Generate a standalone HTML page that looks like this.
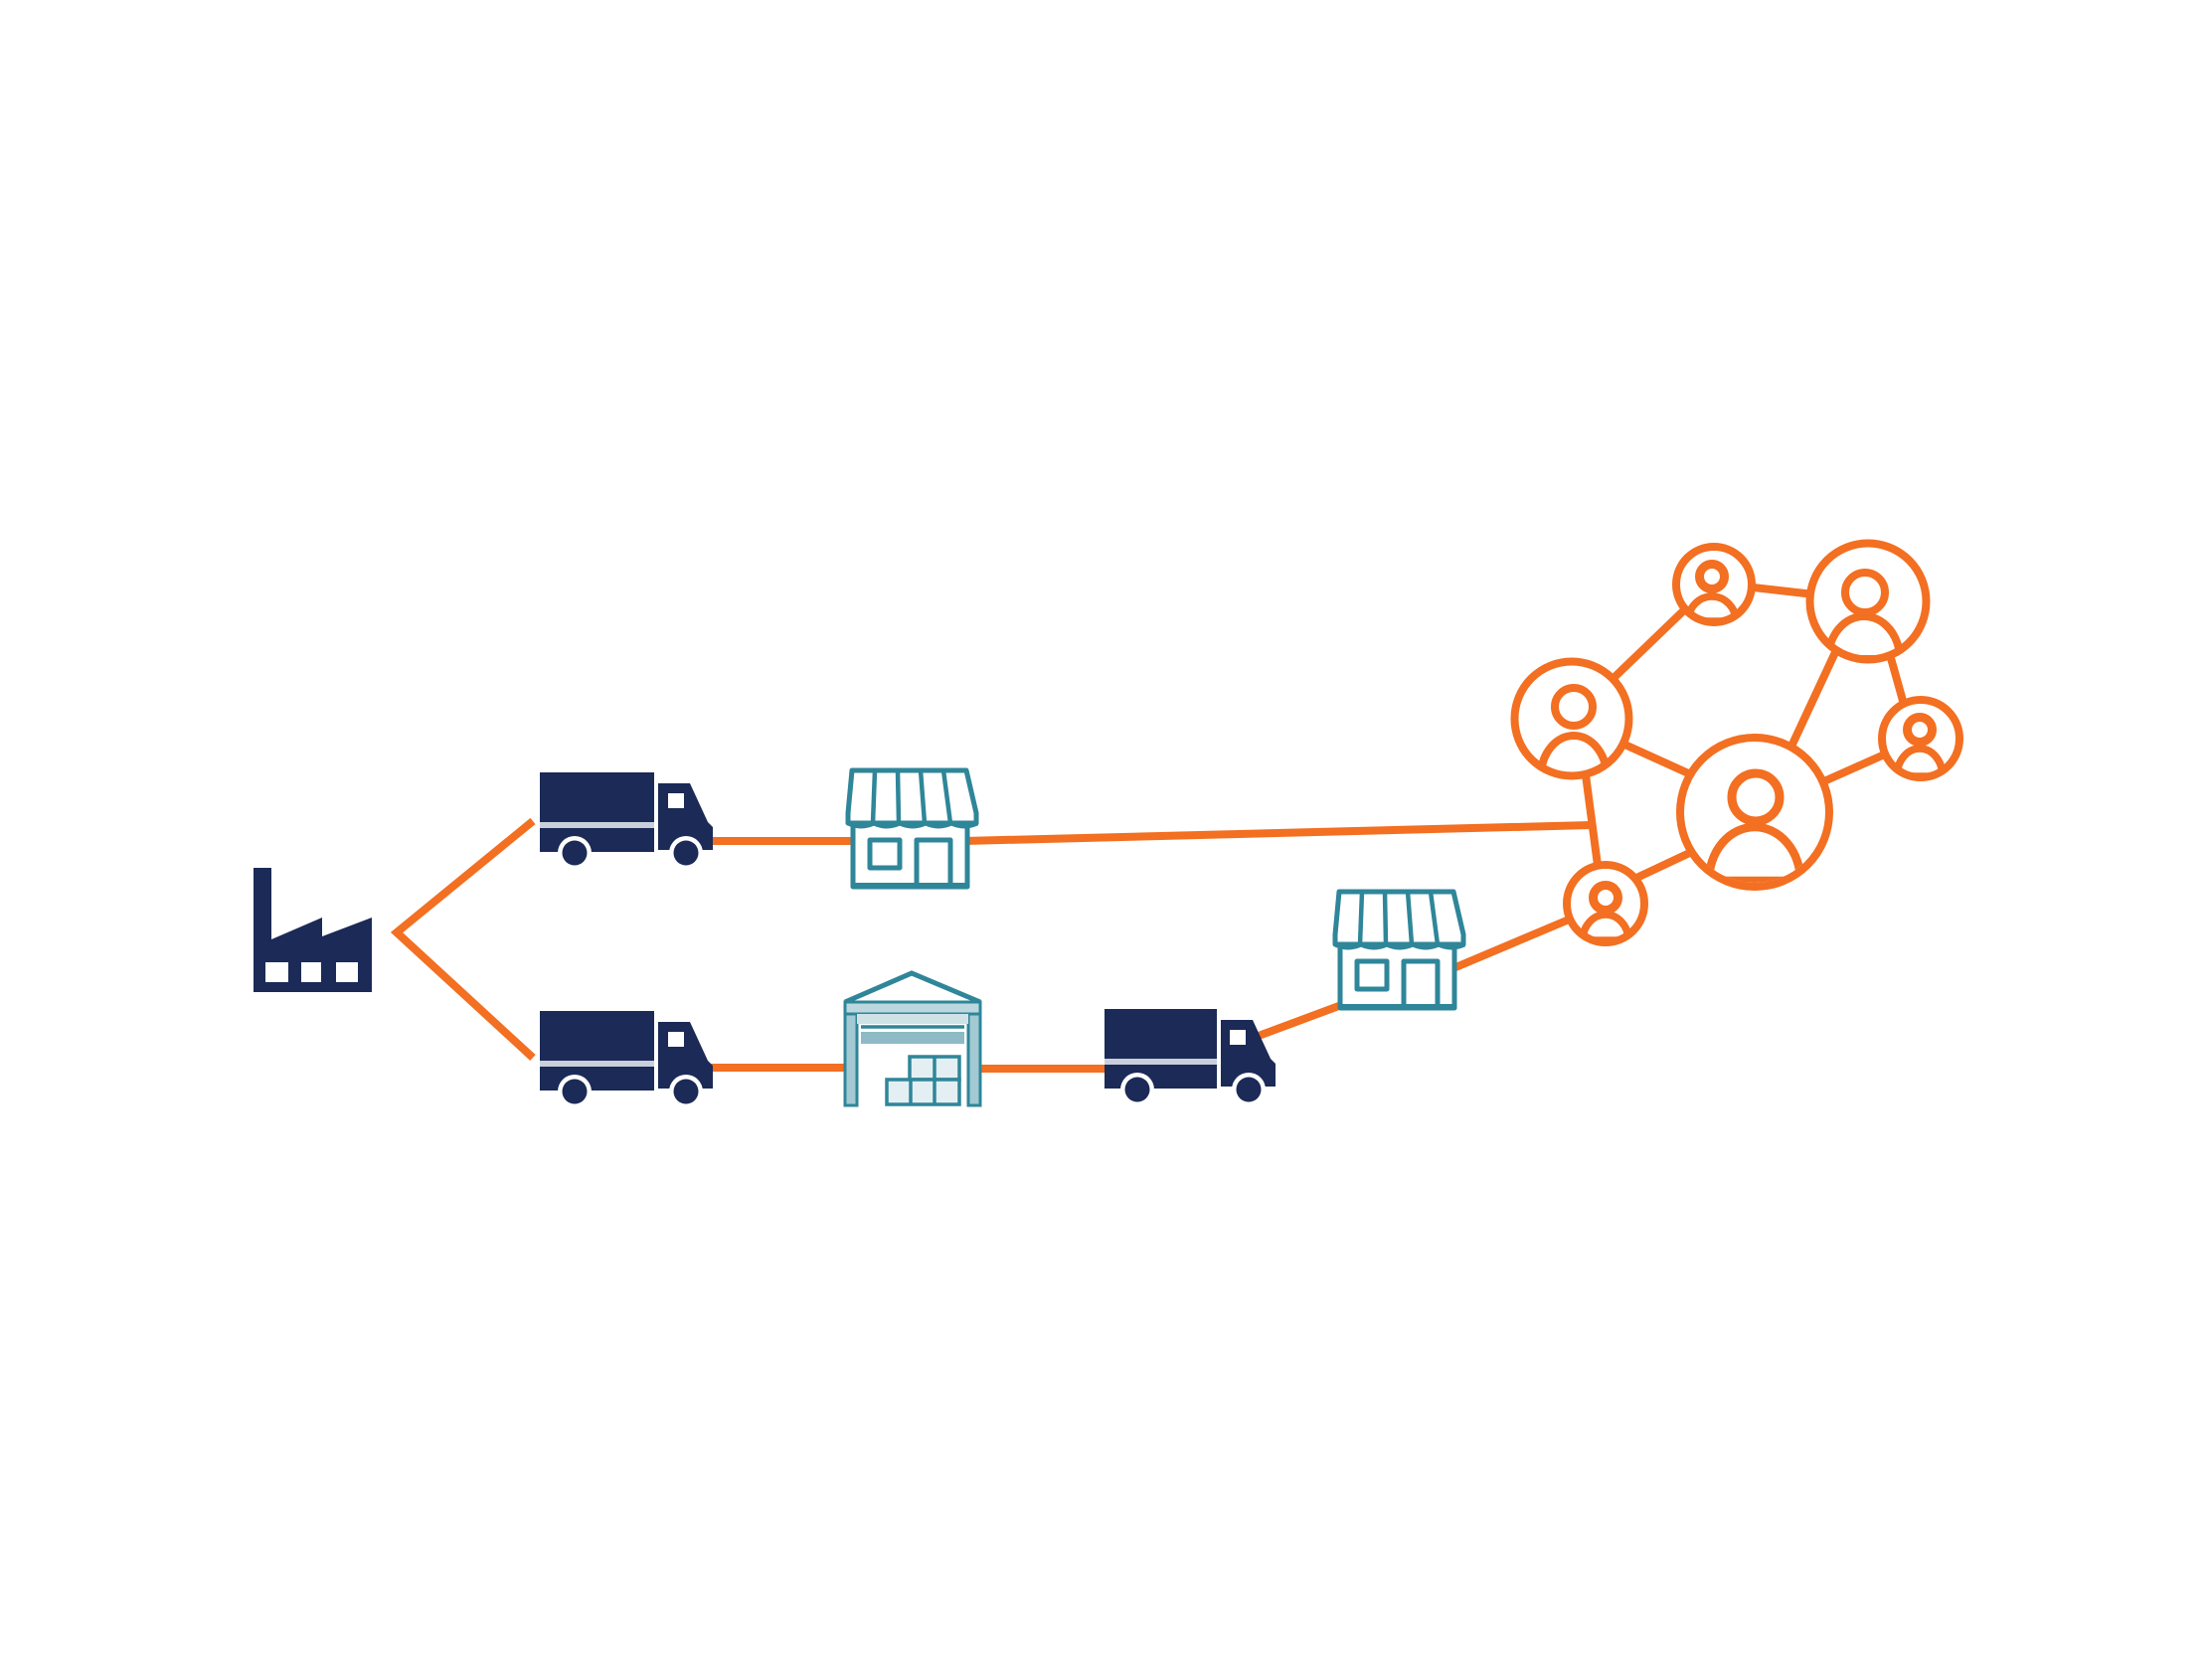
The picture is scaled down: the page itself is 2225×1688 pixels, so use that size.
<!DOCTYPE html>
<html>
<head>
<meta charset="utf-8">
<style>
  html,body{margin:0;padding:0;background:#fff;}
  svg{display:block;}
</style>
</head>
<body>
<svg width="2225" height="1688" viewBox="0 0 2225 1688" xmlns="http://www.w3.org/2000/svg">
  <rect x="0" y="0" width="2225" height="1688" fill="#ffffff"/>
  <defs>
    <clipPath id="cA"><circle cx="1581" cy="723" r="54"/></clipPath>
    <clipPath id="cB"><circle cx="1724" cy="588" r="35"/></clipPath>
    <clipPath id="cC"><circle cx="1879" cy="605" r="55"/></clipPath>
    <clipPath id="cD"><circle cx="1932" cy="743" r="36"/></clipPath>
    <clipPath id="cE"><circle cx="1765" cy="817" r="71"/></clipPath>
    <clipPath id="cF"><circle cx="1615" cy="909" r="36"/></clipPath>
  </defs>

  <!-- ORANGE CONNECTORS -->
  <g stroke="#f36f21" stroke-width="8" fill="none" stroke-linecap="butt" stroke-linejoin="miter">
    <polyline points="536,826 399,938 536,1064"/>
    <line x1="712" y1="846" x2="862" y2="846"/>
    <line x1="970" y1="846" x2="1601" y2="830"/>
    <line x1="712" y1="1074" x2="855" y2="1074"/>
    <line x1="982" y1="1075" x2="1115" y2="1075"/>
    <line x1="1258" y1="1045" x2="1352" y2="1010"/>
    <line x1="1462" y1="974" x2="1590" y2="920"/>
    <!-- network -->
    <line x1="1620" y1="685" x2="1700" y2="608"/>
    <line x1="1755" y1="590" x2="1825" y2="598"/>
    <line x1="1848" y1="652" x2="1800" y2="755"/>
    <line x1="1900" y1="655" x2="1916" y2="712"/>
    <line x1="1900" y1="757" x2="1828" y2="789"/>
    <line x1="1630" y1="747" x2="1705" y2="781"/>
    <line x1="1594" y1="772" x2="1608" y2="878"/>
    <line x1="1708" y1="854" x2="1640" y2="886"/>
  </g>

  <!-- NETWORK CIRCLES -->
  <g stroke="#f36f21" stroke-width="8" fill="#ffffff">
    <circle cx="1581" cy="723" r="57.5"/>
    <circle cx="1724" cy="588" r="38"/>
    <circle cx="1879" cy="605" r="58.5"/>
    <circle cx="1932" cy="743" r="39"/>
    <circle cx="1765" cy="817" r="75"/>
    <circle cx="1615" cy="909" r="39"/>
  </g>
  <!-- persons -->
  <g stroke="#f36f21" fill="none">
    <g clip-path="url(#cA)"><path d="M1550,781 A33,41 0 0 1 1616,781 Z" stroke-width="8"/></g>
    <circle cx="1583" cy="711" r="19" stroke-width="8"/>
    <g clip-path="url(#cB)"><path d="M1698,625 A24,25 0 0 1 1746,625 Z" stroke-width="7.5"/></g>
    <circle cx="1722" cy="580" r="12.5" stroke-width="9"/>
    <g clip-path="url(#cC)"><path d="M1839,663 A36,43 0 0 1 1911,663 Z" stroke-width="8"/></g>
    <circle cx="1876" cy="596" r="20" stroke-width="8"/>
    <g clip-path="url(#cD)"><path d="M1908,781 A23,28 0 0 1 1954,781 Z" stroke-width="7.5"/></g>
    <circle cx="1931" cy="734" r="12.5" stroke-width="9"/>
    <g clip-path="url(#cE)"><path d="M1719,886 A46,54 0 0 1 1811,886 Z" stroke-width="8.5"/></g>
    <circle cx="1766" cy="802" r="24" stroke-width="9"/>
    <g clip-path="url(#cF)"><path d="M1592,946 A23,26 0 0 1 1638,946 Z" stroke-width="7.5"/></g>
    <circle cx="1615" cy="903" r="12.5" stroke-width="9"/>
  </g>

  <!-- FACTORY -->
  <path d="M255,873 L273,873 L273,945 L324,923 L324,942 L374,923 L374,998 L255,998 Z" fill="#1b2a56"/>
  <g fill="#ffffff">
    <rect x="267" y="968" width="23" height="20"/>
    <rect x="303" y="968" width="20" height="20"/>
    <rect x="338" y="968" width="22" height="20"/>
  </g>

  <!-- TRUCKS -->
  <g transform="translate(543,777)">
    <rect x="0" y="0" width="115" height="80" fill="#1b2a56"/>
    <rect x="0" y="50" width="115" height="6" fill="#c9cfdb"/>
    <path d="M119,11 L151,11 L169,50 L174,55 L174,78 L119,78 Z" fill="#1b2a56"/>
    <rect x="129" y="21" width="16" height="15" fill="#ffffff"/>
    <circle cx="35" cy="81" r="17" fill="#ffffff"/>
    <circle cx="35" cy="81" r="12.5" fill="#1b2a56"/>
    <circle cx="147" cy="81" r="17" fill="#ffffff"/>
    <circle cx="147" cy="81" r="12.5" fill="#1b2a56"/>
  </g>
  <g transform="translate(543,1017)">
    <rect x="0" y="0" width="115" height="80" fill="#1b2a56"/>
    <rect x="0" y="50" width="115" height="6" fill="#c9cfdb"/>
    <path d="M119,11 L151,11 L169,50 L174,55 L174,78 L119,78 Z" fill="#1b2a56"/>
    <rect x="129" y="21" width="16" height="15" fill="#ffffff"/>
    <circle cx="35" cy="81" r="17" fill="#ffffff"/>
    <circle cx="35" cy="81" r="12.5" fill="#1b2a56"/>
    <circle cx="147" cy="81" r="17" fill="#ffffff"/>
    <circle cx="147" cy="81" r="12.5" fill="#1b2a56"/>
  </g>
  <g transform="translate(1111,1015)">
    <rect x="0" y="0" width="113" height="80" fill="#1b2a56"/>
    <rect x="0" y="50" width="113" height="6" fill="#c9cfdb"/>
    <path d="M117,11 L149,11 L167,50 L172,55 L172,78 L117,78 Z" fill="#1b2a56"/>
    <rect x="126" y="21" width="16" height="15" fill="#ffffff"/>
    <circle cx="33" cy="81" r="17" fill="#ffffff"/>
    <circle cx="33" cy="81" r="12.5" fill="#1b2a56"/>
    <circle cx="145" cy="81" r="17" fill="#ffffff"/>
    <circle cx="145" cy="81" r="12.5" fill="#1b2a56"/>
  </g>

  <!-- STORES -->
  <g stroke="#2f8699" stroke-width="5" fill="#ffffff" stroke-linejoin="round">
    <rect x="858" y="828" width="115" height="65" fill="#ffffff" stroke="none"/>
    <path d="M857,775 H972 L982,818 V828 H853 V818 Z"/>
    <path d="M853,828 q13,6 26,0 q13,6 26,0 q13,6 26,0 q13,6 26,0 q13,6 26,0" fill="none"/>
    <g fill="none" stroke-width="4.5">
      <line x1="880" y1="775" x2="878" y2="828"/>
      <line x1="903" y1="775" x2="904" y2="828"/>
      <line x1="926" y1="775" x2="930" y2="828"/>
      <line x1="949" y1="775" x2="956" y2="828"/>
    </g>
    <path d="M858,830 V892 H973 V830" fill="none"/>
    <line x1="858" y1="891" x2="973" y2="891" stroke-width="6"/>
    <rect x="875" y="845" width="30" height="28" fill="none"/>
    <path d="M922,892 V845 H956 V892" fill="none"/>
  </g>
  <g transform="translate(490,122)" stroke="#2f8699" stroke-width="5" fill="#ffffff" stroke-linejoin="round">
    <rect x="858" y="828" width="115" height="65" fill="#ffffff" stroke="none"/>
    <path d="M857,775 H972 L982,818 V828 H853 V818 Z"/>
    <path d="M853,828 q13,6 26,0 q13,6 26,0 q13,6 26,0 q13,6 26,0 q13,6 26,0" fill="none"/>
    <g fill="none" stroke-width="4.5">
      <line x1="880" y1="775" x2="878" y2="828"/>
      <line x1="903" y1="775" x2="904" y2="828"/>
      <line x1="926" y1="775" x2="930" y2="828"/>
      <line x1="949" y1="775" x2="956" y2="828"/>
    </g>
    <path d="M858,830 V892 H973 V830" fill="none"/>
    <line x1="858" y1="891" x2="973" y2="891" stroke-width="6"/>
    <rect x="875" y="845" width="30" height="28" fill="none"/>
    <path d="M922,892 V845 H956 V892" fill="none"/>
  </g>

  <!-- WAREHOUSE -->
  <g stroke="#2f8699">
    <rect x="852" y="1008" width="134" height="104" fill="#ffffff" stroke="none"/>
    <path d="M850,1008 L917,979 L986,1008" fill="none" stroke-width="5" stroke-linejoin="miter"/>
    <rect x="850" y="1008" width="136" height="12" fill="#bcd8de" stroke-width="3"/>
    <rect x="850" y="1020" width="12" height="92" fill="#a3c9d2" stroke-width="3"/>
    <rect x="974" y="1020" width="12" height="92" fill="#a3c9d2" stroke-width="3"/>
    <rect x="862" y="1020" width="112" height="10" fill="#cfe3e7" stroke="none"/>
    <line x1="866" y1="1033" x2="970" y2="1033" stroke-width="3.5"/>
    <rect x="866" y="1038" width="104" height="12" fill="#8dbac5" stroke="none"/>
    <rect x="915" y="1063" width="50" height="23" fill="#e3eff2" stroke-width="3.5"/>
    <line x1="940" y1="1063" x2="940" y2="1086" stroke-width="3.5"/>
    <rect x="892" y="1086" width="73" height="25" fill="#e3eff2" stroke-width="3.5"/>
    <line x1="916" y1="1086" x2="916" y2="1111" stroke-width="3.5"/>
    <line x1="940" y1="1086" x2="940" y2="1111" stroke-width="3.5"/>
  </g>
</svg>
</body>
</html>
